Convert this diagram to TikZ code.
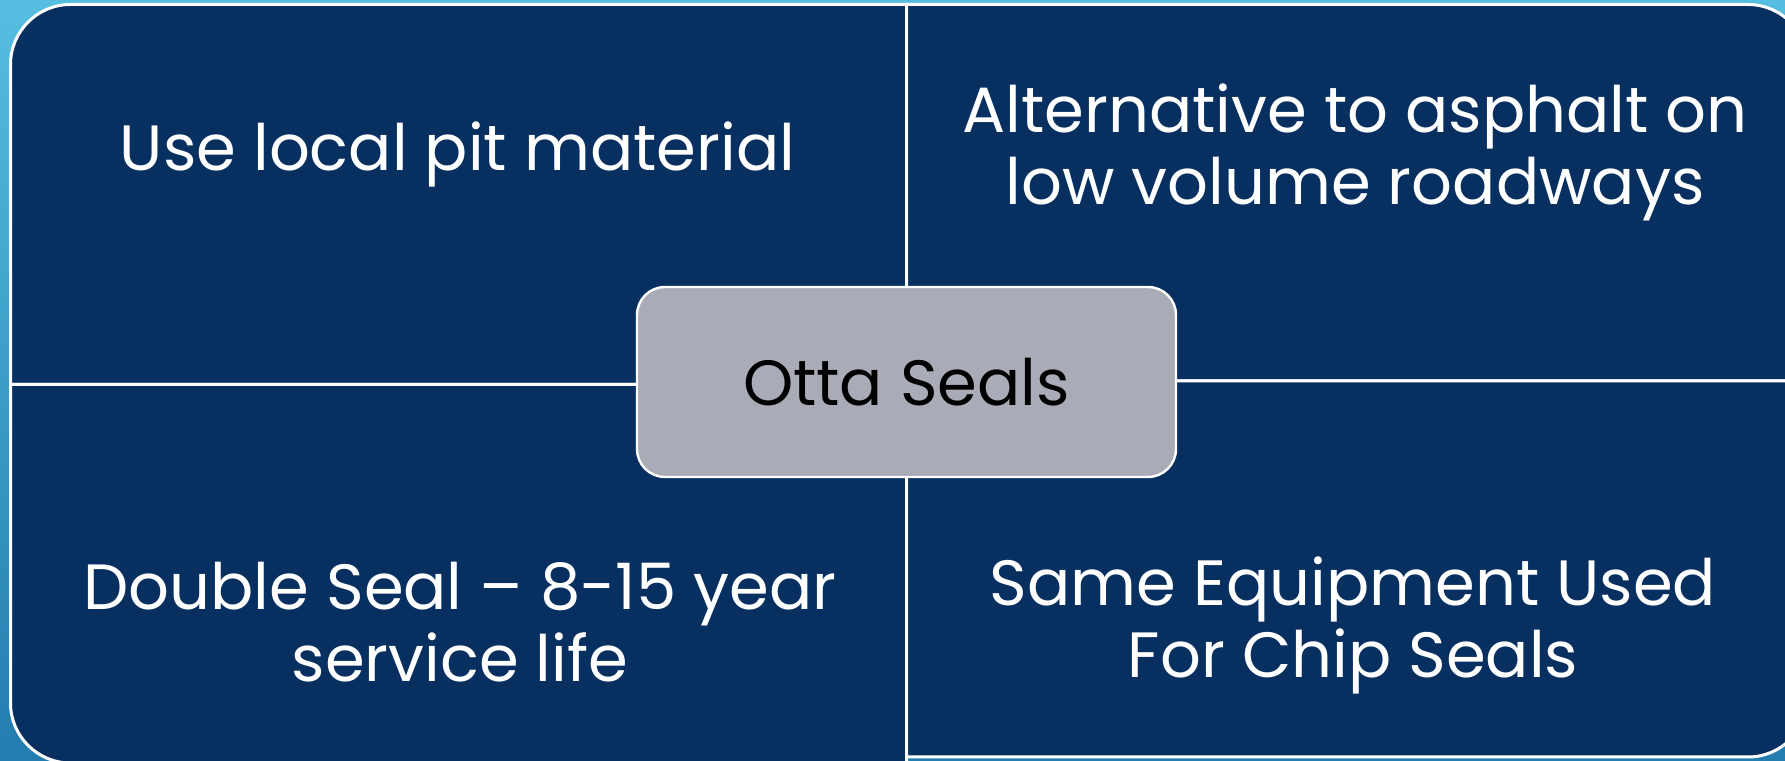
\documentclass[tikz,border=0pt]{standalone}
\usepackage{fontspec}
\setmainfont{Poppins}
\definecolor{navy}{RGB}{7,47,95}
\definecolor{hubgray}{RGB}{169,171,183}
\definecolor{skytop}{RGB}{85,190,225}
\definecolor{skybot}{RGB}{35,125,175}

\begin{document}
\begin{tikzpicture}[x=0.5pt, y=0.5pt, quad/.style = {fill=navy, draw=white, line width=1.5pt}, hub/.style = {draw=white, line width=1.2pt, fill=hubgray, rounded corners=14pt, minimum width=269.5pt, minimum height=95pt, text=black}, lbl/.style = {text=white, align=center}, font=\fontsize{32}{36}\selectfont]
\fill[top color=skytop, bottom color=skybot] (0,0) rectangle (1785,761);
\useasboundingbox (0,0) rectangle (1785,761);
% four quadrants
\draw[quad] (906.5,376.5) -- (10.5,376.5) -- (10.5,696.5) arc[start angle=180, end angle=90, radius=60] -- (906.5,756.5) -- cycle;
\draw[quad] (906.5,380) -- (906.5,756.5) -- (1748,756.5) arc[start angle=90, end angle=0, radius=60] -- (1808,380) -- cycle;
\draw[quad] (906.5,376.5) -- (10.5,376.5) -- (10.5,58) arc[start angle=180, end angle=270, radius=60] -- (906.5,-2) -- cycle;
\draw[quad] (906.5,380) -- (1808,380) -- (1808,64) arc[start angle=0, end angle=-90, radius=60] -- (906.5,4) -- cycle;
% texts
\node[lbl] (pit) at (457.5,607) {Use local pit material};
\node[lbl] (alt) at (1355,609) {Alternative to asphalt on\\low volume roadways};
\node[lbl] (life) at (460,139) {Double Seal – 8-15 year\\service life};
\node[lbl] (equip) at (1353,136) {Same Equipment Used\\For Chip Seals};
\node[hub] (otta) at (906.5,379) {Otta Seals};
\end{tikzpicture}
\end{document}
